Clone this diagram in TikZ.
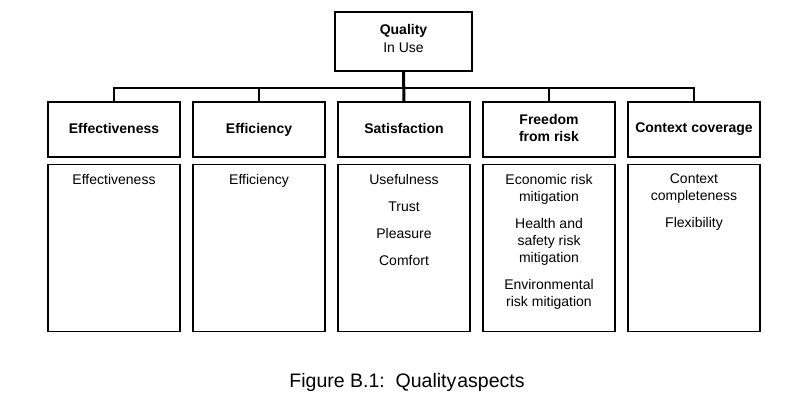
\documentclass[tikz,border=0pt]{standalone}
\usepackage{fontspec}
\setmainfont{Liberation Sans}
\usetikzlibrary{positioning}

\tikzset{
  head/.style={draw,line width=1.5pt,minimum width=132pt,minimum height=55pt,
    align=center,font=\bfseries\fontsize{14}{17}\selectfont,inner sep=0pt},
  list/.style={draw,line width=1.5pt,minimum width=132pt,minimum height=167pt,inner sep=0pt},
  items/.style={anchor=north,align=center,font=\fontsize{14}{17}\selectfont,inner sep=0pt},
  link/.style={line width=1.6pt},
  trunk/.style={line width=3pt}
}

\begin{document}
\begin{tikzpicture}[x=1pt,y=-1pt]
    \useasboundingbox (0,0) rectangle (805,411);
    \node[draw,line width=1.5pt,minimum width=137pt,minimum height=59pt,align=center,
      font=\fontsize{14}{18}\selectfont] (qiu) at (403.5,41.5)
      {\textbf{Quality}\\In Use\rule[-6pt]{0pt}{6pt}};
    \coordinate (bus) at (0,88);
    % characteristics and their sub-characteristics
    \foreach \n/\h/\t [count=\i from 0] in {
      eff/Effectiveness/Effectiveness,
      efc/Efficiency/Efficiency,
      sat/Satisfaction/{Usefulness\\[10pt]Trust\\[10pt]Pleasure\\[10pt]Comfort},
      frd/{Freedom\\from risk}/{Economic risk\\mitigation\\[10pt]Health and\\safety risk\\mitigation\\[10pt]Environmental\\risk mitigation},
      ctx/Context coverage/{Context\\completeness\\[10pt]Flexibility}}
    {
      \node[head] (\n) at (114+145*\i,129.5) {\h\vphantom{y}};
      \node[list,below=6pt of \n] (\n-l) {};
      \node[items] (\n-t) at ([yshift=-10pt]\n-l.north) {\t};
    }
    \draw[link] (eff.north) |- (qiu.south |- bus) -| (ctx.north);
    \draw[link] (efc.north) -- (efc.north |- bus);
    \draw[link] (frd.north) -- (frd.north |- bus);
    \draw[trunk] (qiu.south) -- (sat.north);
    \node[font=\fontsize{19.5}{22}\selectfont] (cap) at (407,382) {Figure B.1:\ \ Quality\hspace{1pt}aspects};
\end{tikzpicture}
\end{document}
